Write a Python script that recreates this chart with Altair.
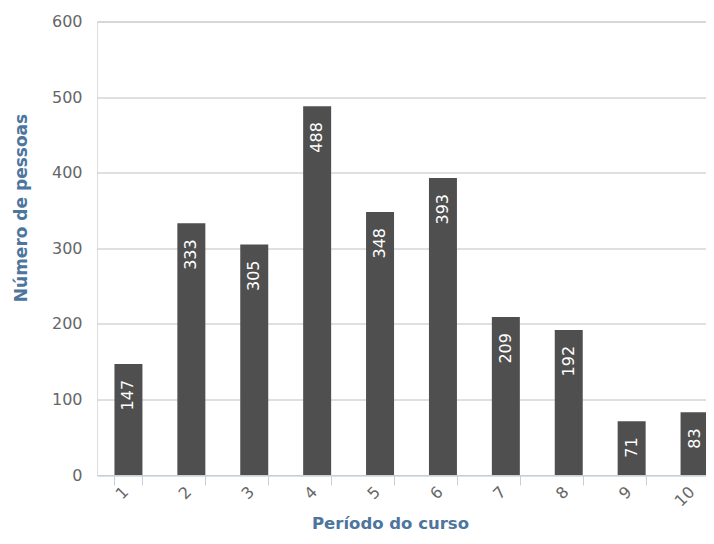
import altair as alt
import pandas as pd

periodos = ["1", "2", "3", "4", "5", "6", "7", "8", "9", "10"]
pessoas = [147, 333, 305, 488, 348, 393, 209, 192, 71, 83]

df = pd.DataFrame({"periodo": periodos, "pessoas": pessoas})

FONT = "DejaVu Sans"
TITLE_COLOR = "#4d759e"
LABEL_COLOR = "#666666"

x_enc = alt.X(
    "periodo:N",
    sort=periodos,
    scale=alt.Scale(range=[0, 629], paddingInner=0.555, paddingOuter=0.2775),
    axis=alt.Axis(
        title="Período do curso",
        titleFont=FONT,
        titleFontSize=16.5,
        titleFontWeight="bold",
        titleColor=TITLE_COLOR,
        titleX=293,
        titleY=48.5,
        titleBaseline="middle",
        titleAlign="center",
        labelAngle=315,
        labelAlign="right",
        labelBaseline="middle",
        labelFont=FONT,
        labelFontSize=16,
        labelColor=LABEL_COLOR,
        labelPadding=4,
        labelOffset=-3,
        domainColor="#C0D0E0",
        tickColor="#C0D0E0",
        tickSize=10,
        tickBand="extent",
        grid=False,
    ),
)

y_enc = alt.Y(
    "pessoas:Q",
    scale=alt.Scale(domain=[0, 600], nice=False),
    axis=alt.Axis(
        title="Número de pessoas",
        titleFont=FONT,
        titleFontSize=17,
        titleFontWeight="bold",
        titleColor=TITLE_COLOR,
        titleX=-76,
        titleY=186,
        titleAngle=270,
        titleAlign="center",
        titleBaseline="middle",
        values=[0, 100, 200, 300, 400, 500, 600],
        labelFont=FONT,
        labelFontSize=16,
        labelColor=LABEL_COLOR,
        labelPadding=15,
        domain=False,
        ticks=False,
        grid=True,
        gridColor="#C0C0C0",
        gridWidth=1,
    ),
)

bars = alt.Chart(df).mark_bar(color="#4f4f4f").encode(x=x_enc, y=y_enc)

labels = alt.Chart(df).mark_text(
    angle=270,
    align="right",
    baseline="middle",
    dx=-16,
    color="white",
    font=FONT,
    fontSize=16,
).encode(
    x=alt.X("periodo:N", sort=periodos),
    y=alt.Y("pessoas:Q"),
    text=alt.Text("pessoas:Q"),
)

chart = (
    alt.layer(bars, labels)
    .properties(
        width=609,
        height=453.5,
        autosize=alt.AutoSizeParams(type="none"),
        padding={"left": 89, "top": 13.5, "right": 0, "bottom": 58},
    )
    .configure_view(stroke=None)
    .configure(background="white")
)

chart.save("out.html", embed_options={"renderer": "svg", "actions": False})
